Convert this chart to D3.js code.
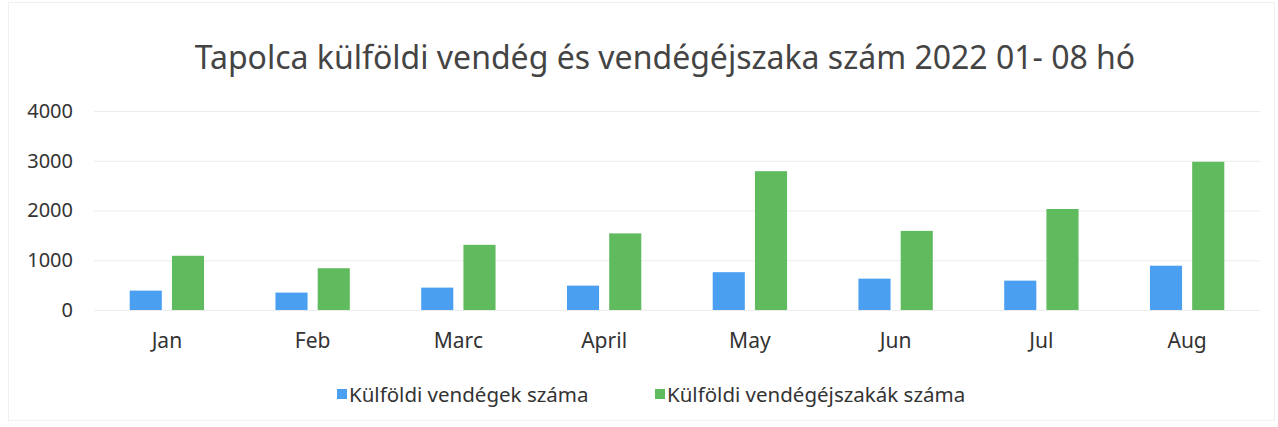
<!DOCTYPE html>
<html>
<head>
<meta charset="utf-8">
<script src="https://cdn.jsdelivr.net/npm/d3@7"></script>
<style>
  body { margin: 0; background: #fff; }
  text { font-family: "Noto Sans", "Open Sans", sans-serif; }
</style>
</head>
<body>
<svg id="main" width="1278" height="427"></svg>
<script>
var months = ["Jan", "Feb", "Marc", "April", "May", "Jun", "Jul", "Aug"];
var guests = [390, 350, 450, 490, 760, 630, 590, 890];
var nights = [1090, 840, 1310, 1540, 2790, 1590, 2030, 2980];
var seriesNames = ["Külföldi vendégek száma", "Külföldi vendégéjszakák száma"];
var yTicks = [0, 1000, 2000, 3000, 4000];

var colors = ["#4a9ff0", "#5fbb5e"];

var svg = d3.select("#main");
// note: "top" is taken by window.top, so use plotTop
var plotLeft = 94, plotRight = 1260, plotTop = 111, plotBottom = 310;

// faint frame like the pasted chart
svg.append("rect")
    .attr("x", 8.5).attr("y", 2.5)
    .attr("width", 1266).attr("height", 418)
    .attr("fill", "none")
    .attr("stroke", "#f0f0f0");

svg.append("text")
    .attr("x", 665)
    .attr("y", 69)
    .attr("text-anchor", "middle")
    .attr("font-size", "32px")
    .attr("fill", "#444")
    .text("Tapolca külföldi vendég és vendégéjszaka szám 2022 01- 08 hó");

var x = d3.scaleBand().domain(months).range([plotLeft, plotRight]).paddingInner(0.49).paddingOuter(0.245);
var sub = d3.scaleBand().domain([0, 1]).range([0, x.bandwidth()]).paddingInner(0.24);
var y = d3.scaleLinear().domain([0, 4000]).range([plotBottom, plotTop]);

// gridlines
svg.append("g")
    .selectAll("line")
    .data(yTicks)
    .join("line")
    .attr("x1", plotLeft).attr("x2", plotRight)
    .attr("y1", function(d) { return y(d) + 0.5; })
    .attr("y2", function(d) { return y(d) + 0.5; })
    .attr("stroke", "#ececec");

// y axis labels
var yAxis = svg.append("g")
    .attr("transform", "translate(" + (plotLeft - 21) + ",0)")
    .call(d3.axisLeft(y).tickValues(yTicks).tickSize(0).tickPadding(0).tickFormat(d3.format("d")));
yAxis.select(".domain").remove();
yAxis.selectAll("text")
    .attr("font-family", "Noto Sans")
    .attr("font-size", "20px")
    .attr("fill", "#333");

// x axis labels
var xAxis = svg.append("g")
    .attr("transform", "translate(0," + plotBottom + ")")
    .call(d3.axisBottom(x).tickSize(0).tickPadding(23));
xAxis.select(".domain").remove();
xAxis.selectAll("text")
    .attr("font-family", "Noto Sans")
    .attr("font-size", "21px")
    .attr("fill", "#333");

var series = [guests, nights];
series.forEach(function(vals, s) {
    svg.append("g")
        .selectAll("rect")
        .data(vals)
        .join("rect")
        .attr("x", function(d, i) { return x(months[i]) + sub(s); })
        .attr("y", function(d) { return y(d); })
        .attr("width", sub.bandwidth())
        .attr("height", function(d) { return plotBottom - y(d); })
        .attr("fill", colors[s]);
});

// legend
var legendX = [337, 655];
var legend = svg.append("g");
seriesNames.forEach(function(name, i) {
    legend.append("rect")
        .attr("x", legendX[i]).attr("y", 389)
        .attr("width", 10).attr("height", 10)
        .attr("fill", colors[i]);
    legend.append("text")
        .attr("x", legendX[i] + 12).attr("y", 402)
        .attr("font-size", "20.5px")
        .attr("fill", "#333")
        .text(name);
});
</script>
</body>
</html>
